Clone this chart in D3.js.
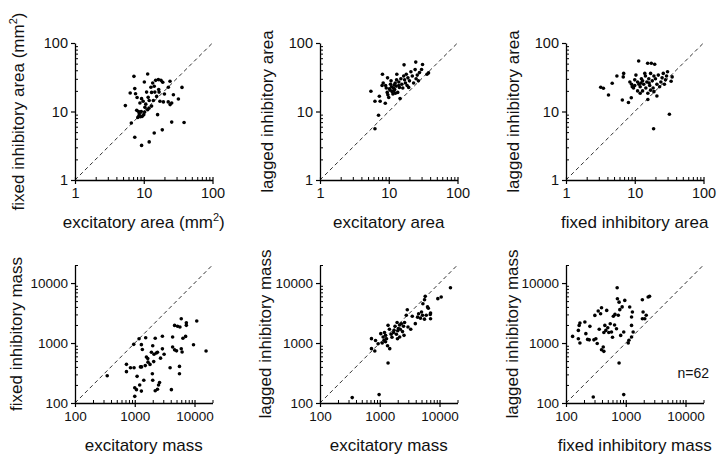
<!DOCTYPE html>
<html><head><meta charset="utf-8">
<script src="https://cdn.jsdelivr.net/npm/d3@7"></script>
<style>
html,body{margin:0;padding:0;background:#fff}
svg{display:block}
text{font-family:"Liberation Sans",Arial,Helvetica,sans-serif;fill:#111}
</style>
</head><body>
<svg id="c" width="720" height="462"></svg>
<script>
// ---------- tick labels / domains ----------
const areaTicks = [1, 10, 100];
const massTicks = [100, 1000, 10000];
const areaDomain = [1, 100];
const massDomain = [100, 20000];

// ---------- data: [x, y] pairs ----------
const excArea_fixedArea = [
[11.4,35.3],[7.2,32.6],[10.2,27],[13.5,26.1],[14.9,28.5],[16.3,29.2],[17.8,28.5],[18.9,26.7],[24.1,27.6],[36,22.5],
[6.35,18.6],[7.4,21.6],[7.6,18.2],[12.7,22.6],[14.2,23.4],[11,19.2],[13,19],[14.5,19.2],[16.7,19.2],[22.8,22.6],[27,17.6],[31.9,15.2],
[5.4,12.2],[9.3,15.4],[9.8,14.1],[8.8,13.3],[11.6,16.1],[12,14.5],[13.8,14.5],[15.4,16.6],[17.2,14.1],[19.3,13.8],[22.7,13.8],[24.2,12.6],[25.5,13.3],
[10.4,11.5],[11.4,10.6],[11.9,11.2],
[8.4,10],[8.6,9.3],[8.5,8.6],[9,8.4],[9.5,8.5],[10,9],[10.3,9.8],[9.2,10],[8.2,8.2],
[15.9,9.0],[6.6,6.8],[25.5,7.0],[38.6,6.9],[18.6,5.4],[14.2,4.85],[7.4,4.2],[9.3,3.2],[12,3.6],
[8,16],[20,18],[16.5,21],[13,12],[10.7,12.8],[7.9,10.4]
];
const excArea_laggedArea = [
[5.5,19.8],[6.3,14.1],[7.3,16.7],[7.5,14.1],[8.9,13.2],[7.1,8.8],[6.3,5.6],
[8.1,35],[8.3,26],[8.0,24],[9.6,31],[9.2,22],[9.5,19],[9.7,17.5],[10,16],[10.2,21.5],[10.6,25],[10.8,28],[11,23],[11.2,19.5],[11.5,18],[11.7,22],[12,24.5],[12.2,21],[12.4,26],[12.8,23.5],[13.1,34.9],[13,29],[13.5,19],[14,27],[14.3,22.5],[14.6,15.5],[15,30],[15.5,25],[16,22],[16.7,48],[16.5,33],[17,29],[17.5,26],[18,35],[18.5,24],[19,31],[20,28],[21,38],[22,33],[23,26],[24.2,40.9],[24.7,52.6],[25,30],[26,34],[27,28],[28,37],[31,48.6],[30,41],[37.9,36.6],[36,35],[11.8,20],[10.5,20.5],[12.5,18.5],[9,24],[14,24],[19.5,22.5]
];
const fixedArea_laggedArea = [
[3.2,22.6],[3.5,21.8],[4.15,17.4],[4.7,25.8],[5.5,33],[6.9,36],[6.8,32],[6.6,14.7],[8.1,13.5],[8.9,15.9],
[11.4,54.6],[15.4,50.5],[17.4,50.5],[19.5,48.9],[31.9,9.1],[18.8,5.6],[33.8,27.6],[35,32],
[8.5,27],[9,25],[9.2,23],[9.6,22],[10,24],[10,29],[10.4,34],[11,27],[11,20],[11.5,25],[12,23],[12,18.5],[12.5,30],[13,28],[13,20],[13.5,25],[14,36],[14.3,33],[14.5,22],[15,27],[15.5,18.5],[15.5,15],[16,30],[16.5,24],[17,36],[17,20.5],[18,28],[18.5,22],[19,33],[19,19.5],[20,30],[21,16.8],[21,25],[22,34],[23,23],[24,27],[25,31],[26,36],[27,25],[28,29],[29,33],[30,38],[12.3,26],[16.2,26]
];
const excMass_fixedMass = [
[346,285],[726,441],[726,333],[847,388],[973,388],[962,951],[1094,278],[1000,180],[1067,167],[1000,129],
[1180,1180],[1290,940],[1340,780],[1245,400],[1210,200],[1290,158],[1416,240],[1524,1227],[1567,585],[1667,480],
[1800,440],[1970,308],[2075,490],[2000,900],[2100,650],[2200,1200],[2300,680],[2400,700],[2200,160],[2500,200],[2400,170],[2700,560],[2900,1300],[2900,800],[3100,650],[2000,240],
[3900,388],[4100,167],[4300,860],[4300,1260],[5600,408],[4640,770],[4640,1967],[5200,1900],[6000,2547],[5600,308],[6200,708],[6000,805],[6400,1200],[7100,1290],[7300,2180],[7300,1970],[9620,938],[10900,2330],[15600,736],
[1500,420],[1650,550],[1900,700],[2600,220],[5000,740],[1300,400],[5700,1850]
];
const excMass_laggedMass = [
[346,123],[975,138],[1377,464],
[726,1183],[726,806],[826,736],[938,975],[1040,1432],[1138,1259],[1180,1109],[1250,1050],[1300,1180],[1350,900],[1469,806],[1377,1972],[1734,1629],[1800,1900],[1950,2200],[2050,1750],[2150,2000],[2154,1259],[1980,1180],[2547,1343],[2967,1848],[2780,2897],[2890,3597],[3936,2104],[4470,3080],[5270,4530],[5620,5280],[5770,6000],[4800,2600],[5200,2900],[5600,2500],[7080,3160],[7080,2547],[6300,4000],[9370,5500],[10670,5850],[15240,8370],
[1100,1000],[1200,1500],[1550,1400],[1600,1250],[1700,1500],[1900,1400],[2200,1700],[2300,2100],[2400,1550],[2600,2200],[3300,1700],[3500,2800],[4300,2700],[5000,3300],[6500,3800],[7000,3000],[850,1100],[1450,1700],[2000,1600],[2500,1900],[6000,2900],[1250,1350]
];
const fixedMass_laggedMass = [
[129,1290],[161,1180],[171,1000],[161,1624],[166,1967],[171,2154],[207,2240],[215,1432],[245,1130],[251,1896],[293,1130],[304,2890],[316,1180],[333,980],[346,3414],[379,3080],[393,3881],[393,774],[420,857],[430,726],[447,1967],[464,1624],[500,1800],[520,1500],[577,1524],[600,1250],[620,2800],[650,2000],[700,1734],[718,8357],[725,5480],[773,4800],[795,3600],[823,1340],[963,5140],[925,1524],[773,464],[925,138],[286,126],[1130,1110],[1164,3980],[1250,2710],[1292,3290],[1330,1524],[1250,1967],[1250,1263],[1896,5270],[1950,3290],[2080,2540],[2200,2900],[1900,2540],[2370,5840],[2500,6000],
[430,1500],[550,2100],[750,2900],[870,4000],[1100,1000],[230,1150],[480,3500],[660,3000],[360,1700]
];
const sampleNote = "n=62";

// ---------- layout ----------
const svg = d3.select('#c');
const colX = [75, 320, 566];
const plotW = 137.5;
const topRow = {y0: 180, y1: 43, tickFont: 14.5, labelOff: 18};
const botRow = {y0: 403, y1: 265, tickFont: 13.5, labelOff: 18};

const panels = [
  {data: excArea_fixedArea, col: 0, row: topRow, xd: areaDomain, yd: areaDomain, ticks: areaTicks,
   xt: 'excitatory area (mm', xsup: true, yt: 'fixed inhibitory area (mm', ysup: true, ytx: 18},
  {data: excArea_laggedArea, col: 1, row: topRow, xd: areaDomain, yd: areaDomain, ticks: areaTicks,
   xt: 'excitatory area', yt: 'lagged inhibitory area', ytx: 267},
  {data: fixedArea_laggedArea, col: 2, row: topRow, xd: areaDomain, yd: areaDomain, ticks: areaTicks,
   xt: 'fixed inhibitory area', yt: 'lagged inhibitory area', ytx: 513},
  {data: excMass_fixedMass, col: 0, row: botRow, xd: massDomain, yd: massDomain, ticks: massTicks,
   xt: 'excitatory mass', yt: 'fixed inhibitory mass', ytx: 16},
  {data: excMass_laggedMass, col: 1, row: botRow, xd: massDomain, yd: massDomain, ticks: massTicks,
   xt: 'excitatory mass', yt: 'lagged inhibitory mass', ytx: 265},
  {data: fixedMass_laggedMass, col: 2, row: botRow, xd: massDomain, yd: massDomain, ticks: massTicks,
   xt: 'fixed inhibitory mass', yt: 'lagged inhibitory mass', ytx: 512, note: true}
];

function minorTicks(domain, majors){
  const out = [];
  const lo = Math.log10(domain[0]), hi = Math.log10(domain[1]);
  for (let e = Math.floor(lo); e <= Math.ceil(hi); e++){
    for (let m = 2; m <= 9; m++){
      const v = m * Math.pow(10, e);
      if (v >= domain[0] - 1e-9 && v <= domain[1] + 1e-9) out.push(v);
    }
  }
  return out;
}

function addTitle(g, text, sup, attrs){
  const t = g.append('text').attr('font-size', 17).attr('text-anchor', 'middle');
  Object.entries(attrs).forEach(([k,v]) => t.attr(k, v));
  t.append('tspan').text(text);
  if (sup){
    t.append('tspan').attr('font-size', 11).attr('dy', -7).text('2');
    t.append('tspan').attr('dy', 7).text(')');
  }
  return t;
}

panels.forEach(p => {
  const x0 = colX[p.col], x1 = x0 + plotW;
  const x = d3.scaleLog().domain(p.xd).range([x0, x1]);
  const y = d3.scaleLog().domain(p.yd).range([p.row.y0, p.row.y1]);
  const g = svg.append('g');

  // identity line
  const lo = Math.max(p.xd[0], p.yd[0]), hi = Math.min(p.xd[1], p.yd[1]);
  g.append('line')
    .attr('x1', x(lo)).attr('y1', y(lo)).attr('x2', x(hi)).attr('y2', y(hi))
    .attr('stroke', '#333').attr('stroke-width', 1).attr('stroke-dasharray', '4,3');

  const fmt = d3.format('d');
  const minors = minorTicks(p.xd);

  // x axis
  const xa = g.append('g').attr('transform', `translate(0,${p.row.y0})`)
    .call(d3.axisBottom(x).tickValues(p.ticks).tickFormat(fmt).tickSizeInner(4).tickSizeOuter(0).tickPadding(4));
  xa.select('.domain').attr('stroke', '#000').attr('stroke-width', 1.3);
  xa.selectAll('.tick line').attr('y1', -3).attr('stroke', '#000').attr('stroke-width', 1.2);
  xa.selectAll('.tick text').attr('font-size', p.row.tickFont).attr('fill', '#111')
    .attr('font-family', '"Liberation Sans",Arial,sans-serif');
  const xm = g.append('g').attr('transform', `translate(0,${p.row.y0})`)
    .call(d3.axisBottom(x).tickValues(minors).tickFormat('').tickSizeInner(-3).tickSizeOuter(0));
  xm.select('.domain').remove();
  xm.selectAll('.tick line').attr('stroke', '#000').attr('stroke-width', 1);

  // y axis
  const ya = g.append('g').attr('transform', `translate(${x0},0)`)
    .call(d3.axisLeft(y).tickValues(p.ticks).tickFormat(fmt).tickSizeInner(4).tickSizeOuter(0).tickPadding(3));
  ya.select('.domain').attr('stroke', '#000').attr('stroke-width', 1.3);
  ya.selectAll('.tick line').attr('stroke', '#000').attr('stroke-width', 1.2);
  ya.selectAll('.tick text').attr('font-size', p.row.tickFont).attr('fill', '#111')
    .attr('font-family', '"Liberation Sans",Arial,sans-serif');
  const ym = g.append('g').attr('transform', `translate(${x0},0)`)
    .call(d3.axisLeft(y).tickValues(minorTicks(p.yd)).tickFormat('').tickSizeInner(-3).tickSizeOuter(0));
  ym.select('.domain').remove();
  ym.selectAll('.tick line').attr('stroke', '#000').attr('stroke-width', 1);

  // points
  g.append('g').selectAll('circle').data(p.data).join('circle')
    .attr('cx', d => x(d[0])).attr('cy', d => y(d[1])).attr('r', 1.8).attr('fill', '#000');

  // titles
  const cx = (x0 + x1) / 2, cy = (p.row.y0 + p.row.y1) / 2;
  addTitle(g, p.xt, p.xsup, {x: cx, y: p.row.y0 + 48});
  addTitle(g, p.yt, p.ysup, {transform: `translate(${p.ytx + 6},${cy}) rotate(-90)`});

  if (p.note){
    g.append('text').attr('x', 709).attr('y', 378).attr('text-anchor', 'end')
      .attr('font-size', 14).text(sampleNote);
  }
});
</script>
</body></html>
